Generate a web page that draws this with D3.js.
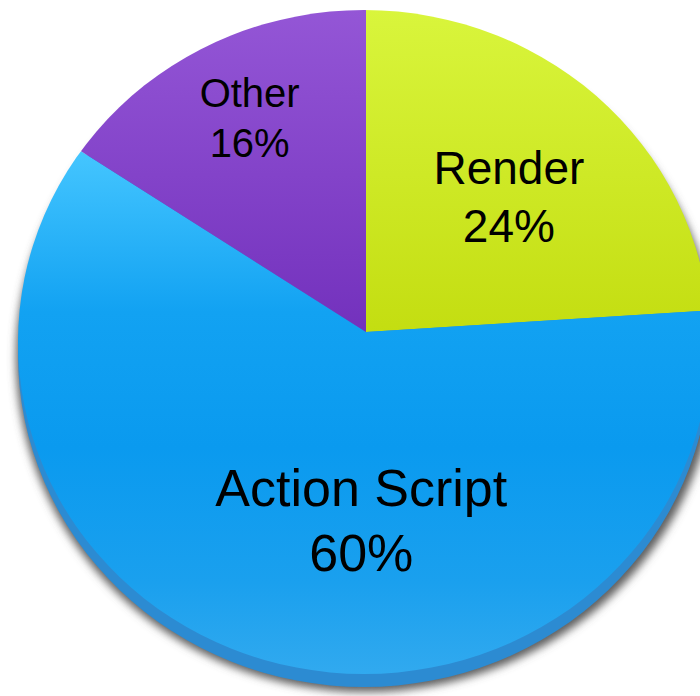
<!DOCTYPE html>
<meta charset="utf-8">
<style>
  body { margin: 0; background: #fff; }
  text { font-family: "Liberation Sans", Arial, sans-serif; fill: #000; }
</style>
<body>
<script src="https://d3js.org/d3.v7.min.js"></script>
<script>

// chart data
var categories = ["Render", "Action Script", "Other"];
var values = [24, 60, 16];
var percentLabels = ["24%", "60%", "16%"];

// gradient stops for each slice (top -> bottom)
var sliceStops = [
  [["0", "#d9f53c"], ["1", "#c3dd10"]],
  [["0", "#45c6ff"], ["0.3", "#12a2f2"], ["0.55", "#0a9aef"], ["0.8", "#1aa0ee"], ["1", "#35abef"]],
  [["0", "#9456d6"], ["1", "#7230bc"]]
];

var width = 700, height = 696;

// the pie face is a slightly squashed ellipse, the slices meet a bit above its centre
var vertex = {x: 366, y: 332};
var face = {cx: 364, cy: 342, rx: 346, ry: 332};

// label tweaks (layout only)
var labelNudge = {"Render": [6, 10], "Action Script": [45, -6], "Other": [-20, -39]};
var labelSize = {"Render": 46, "Action Script": 52, "Other": 40};

var svg = d3.select("body").append("svg")
    .attr("width", width)
    .attr("height", height);

var defs = svg.append("defs");

// soft drop shadow
defs.append("filter")
    .attr("id", "blur")
    .attr("x", "-10%").attr("y", "-10%")
    .attr("width", "120%").attr("height", "120%")
  .append("feGaussianBlur")
    .attr("stdDeviation", 4);

defs.append("clipPath")
    .attr("id", "faceClip")
  .append("ellipse")
    .attr("cx", face.cx).attr("cy", face.cy)
    .attr("rx", face.rx).attr("ry", face.ry);

// one vertical gradient per slice (coordinates relative to the vertex group)
sliceStops.forEach(function(stops, i) {
  var y1 = i === 1 ? 150 : 10, y2 = i === 1 ? 690 : 340;
  var g = defs.append("linearGradient")
      .attr("id", "grad" + i)
      .attr("gradientUnits", "userSpaceOnUse")
      .attr("x1", 0).attr("y1", y1 - vertex.y)
      .attr("x2", 0).attr("y2", y2 - vertex.y);
  stops.forEach(function(s) {
    g.append("stop").attr("offset", s[0]).attr("stop-color", s[1]);
  });
});

// shadow and the side of the disc
svg.append("ellipse")
    .attr("cx", face.cx + 2).attr("cy", face.cy + 16)
    .attr("rx", face.rx + 4).attr("ry", face.ry + 2)
    .attr("fill", "#5e5e5e")
    .attr("filter", "url(#blur)");

svg.append("ellipse")
    .attr("cx", face.cx).attr("cy", face.cy + 13)
    .attr("rx", face.rx).attr("ry", face.ry)
    .attr("fill", "#2c8bd2");

// pie slices, clockwise from 12 o'clock
var pie = d3.pie().sort(null).value(function(d) { return d; });
var arcs = pie(values);

var bigArc = d3.arc().innerRadius(0).outerRadius(900);

var slices = svg.append("g")
    .attr("clip-path", "url(#faceClip)")
  .append("g")
    .attr("transform", "translate(" + vertex.x + "," + vertex.y + ")");

slices.selectAll("path")
    .data(arcs)
    .enter().append("path")
    .attr("d", bigArc)
    .attr("fill", function(d, i) { return "url(#grad" + i + ")"; });

// labels
var labelArc = d3.arc().innerRadius(200).outerRadius(200);

var labels = svg.append("g")
    .attr("transform", "translate(" + vertex.x + "," + vertex.y + ")");

arcs.forEach(function(d, i) {
  var name = categories[i];
  var c = labelArc.centroid(d);
  var x = c[0] + labelNudge[name][0];
  var y = c[1] + labelNudge[name][1];
  var size = labelSize[name];
  var gap = size * 1.25;

  var t = labels.append("text")
      .attr("text-anchor", "middle")
      .style("font-size", size + "px");
  t.append("tspan")
      .attr("x", x)
      .attr("y", y - gap / 2 + 0.36 * size)
      .text(name);
  t.append("tspan")
      .attr("x", x)
      .attr("y", y + gap / 2 + 0.36 * size)
      .text(percentLabels[i]);
});

</script>
</body>
